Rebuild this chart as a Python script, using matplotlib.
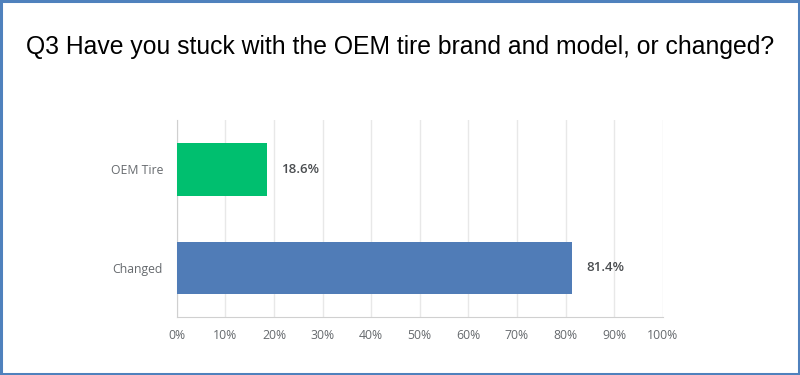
import matplotlib
matplotlib.use("Agg")
import matplotlib.pyplot as plt
from matplotlib.patches import Rectangle

categories = ["Changed", "OEM Tire"]
values = [81.4, 18.6]
colors = ["#507cb7", "#00bf6f"]
xticks = [0, 10, 20, 30, 40, 50, 60, 70, 80, 90, 100]
title = "Q3 Have you stuck with the OEM tire brand and model, or changed?"

fig = plt.figure(figsize=(8, 3.75), dpi=100)
fig.patch.set_facecolor("white")
fig.patches.append(Rectangle((0.0015, 0.003), 0.997, 0.994, transform=fig.transFigure,
                             fill=False, edgecolor="#4f81bd", linewidth=2.2))

ax = fig.add_axes([0.221, 0.1547, 0.6075, 0.525])
y = list(range(len(categories)))
ax.barh(y, values, height=0.533, color=colors, zorder=3)
ax.set_xlim(0, 100)
ax.set_ylim(-0.5, 1.5)
ax.set_xticks(xticks)
ax.set_xticklabels([f"{t}%" for t in xticks])
ax.set_yticks(y)
ax.set_yticklabels(categories)
ax.grid(axis="x", color="#e8e8e8", linewidth=1, zorder=0)
for s in ["top", "right"]:
    ax.spines[s].set_visible(False)
ax.spines["left"].set_color("#d0d0d0")
ax.spines["bottom"].set_color("#d0d0d0")
ax.tick_params(axis="both", length=0, labelsize=8.8, colors="#666a6e")
ax.tick_params(axis="x", pad=9)
ax.tick_params(axis="y", pad=10)
for lbl in ax.get_xticklabels() + ax.get_yticklabels():
    lbl.set_fontfamily("Open Sans")

for yi, v in zip(y, values):
    ax.text(v + 2.9, yi, f"{v}%", va="center", ha="left", fontsize=9.5,
            color="#4a4d50", fontweight="semibold", family="Open Sans")

fig.text(0.5, 0.875, title, ha="center", va="center", fontsize=17.8,
         family="Liberation Sans", color="black")

fig.savefig("out.png", dpi=100)
